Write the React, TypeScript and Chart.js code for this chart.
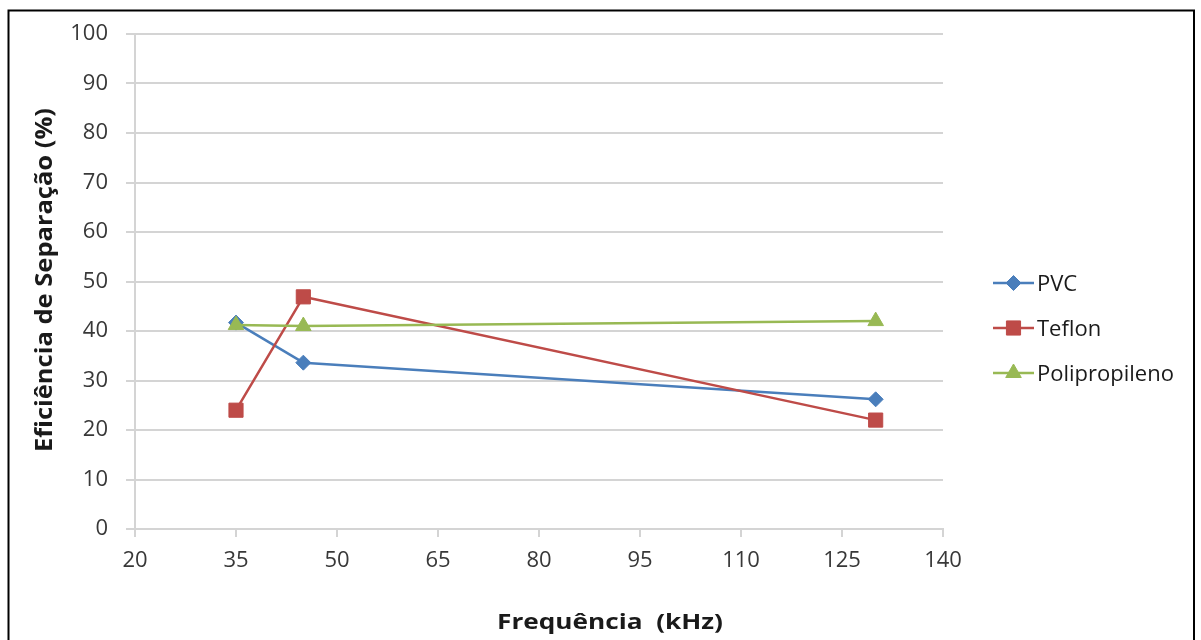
import React, { useEffect, useRef } from "react";
import { Chart, registerables } from "chart.js";
import { drawPoint } from "chart.js/helpers";

Chart.register(...registerables);

// Separation efficiency per material at each ultrasonic frequency
const frequencies = [35, 45, 130];
const pvcValues = [41.7, 33.6, 26.2];
const teflonValues = [24.0, 46.9, 22.0];
const polipropilenoValues = [41.2, 41.0, 42.0];
const seriesNames = ["PVC", "Teflon", "Polipropileno"];

const xTitle = "Frequência  (kHz)";
const yTitle = "Eficiência de Separação (%)";
const xMin = 20;
const xMax = 140;
const xStep = 15;
const yMin = 0;
const yMax = 100;
const yStep = 10;

const COLORS = ["#4A7EBB", "#BE4B48", "#98B954"];
const POINT_STYLES = ["rectRot", "rect", "triangle"] as const;
const POINT_RADII = [7.5, 10, 9];
const GRID = "#d4d4d4";
const TICK_TEXT = "#383838";
const TITLE_TEXT = "#1a1a1a";
const FONT = '"Open Sans", "DejaVu Sans", sans-serif';

function toPoints(values: number[]) {
  return frequencies.map((x, i) => ({ x, y: values[i] }));
}

// Frame, axis titles and an Excel-style legend (line segment + marker)
const decorations = {
  id: "decorations",
  afterDraw(chart: Chart) {
    const ctx = chart.ctx;
    ctx.save();

    // outer frame
    ctx.strokeStyle = "#000";
    ctx.lineWidth = 2;
    ctx.strokeRect(8.5, 10.5, 1185.5, 700);

    // x title
    ctx.fillStyle = TITLE_TEXT;
    ctx.font = `bold 22px ${FONT}`;
    ctx.textAlign = "center";
    ctx.textBaseline = "alphabetic";
    let w = ctx.measureText(xTitle).width;
    ctx.save();
    ctx.translate(610, 629);
    ctx.scale(226 / w, 1);
    ctx.fillText(xTitle, 0, 0);
    ctx.restore();

    // y title
    ctx.font = `bold 24px ${FONT}`;
    w = ctx.measureText(yTitle).width;
    ctx.save();
    ctx.translate(52, 280);
    ctx.rotate(-Math.PI / 2);
    ctx.scale(344 / w, 1);
    ctx.fillText(yTitle, 0, 0);
    ctx.restore();

    // legend
    chart.data.datasets.forEach((ds: any, i: number) => {
      const y = 283 + 45 * i;
      ctx.strokeStyle = ds.borderColor;
      ctx.lineWidth = 2.5;
      ctx.beginPath();
      ctx.moveTo(993, y);
      ctx.lineTo(1034, y);
      ctx.stroke();
      ctx.fillStyle = ds.pointBackgroundColor;
      ctx.strokeStyle = ds.pointBorderColor;
      ctx.lineWidth = 1;
      drawPoint(
        ctx,
        { pointStyle: ds.pointStyle, radius: ds.pointRadius, rotation: 0, borderWidth: 1 } as any,
        1013.5,
        y
      );
      ctx.fillStyle = TITLE_TEXT;
      ctx.font = `22px ${FONT}`;
      ctx.textAlign = "left";
      ctx.textBaseline = "alphabetic";
      ctx.fillText(ds.label, 1037, y + 8);
    });

    ctx.restore();
  },
};

export default function App() {
  const canvasRef = useRef<HTMLCanvasElement | null>(null);

  useEffect(() => {
    const canvas = canvasRef.current;
    if (!canvas) return;
    const seriesValues = [pvcValues, teflonValues, polipropilenoValues];

    const chart = new Chart(canvas, {
      type: "line",
      data: {
        datasets: seriesValues.map((values, i) => ({
          label: seriesNames[i],
          data: toPoints(values),
          borderColor: COLORS[i],
          backgroundColor: COLORS[i],
          pointBackgroundColor: COLORS[i],
          pointBorderColor: COLORS[i],
          pointStyle: POINT_STYLES[i],
          pointRadius: POINT_RADII[i],
          pointBorderWidth: 1,
          borderWidth: 2.5,
          borderJoinStyle: "round",
          tension: 0,
          fill: false,
          order: seriesValues.length - 1 - i,
        })) as any,
      },
      options: {
        animation: false,
        responsive: false,
        devicePixelRatio: 1,
        layout: { padding: { left: 0, top: 34, right: 258, bottom: 0 } },
        plugins: {
          legend: { display: false },
          tooltip: { enabled: false },
          title: { display: false },
        },
        scales: {
          x: {
            type: "linear",
            min: xMin,
            max: xMax,
            ticks: {
              stepSize: xStep,
              color: TICK_TEXT,
              font: { family: FONT, size: 22 },
              padding: 11,
              maxRotation: 0,
              autoSkip: false,
            },
            grid: {
              drawOnChartArea: false,
              drawTicks: true,
              tickLength: 8,
              color: GRID,
              lineWidth: 2,
            },
            border: { display: true, color: GRID, width: 2 },
            afterFit(scale: any) {
              scale.height = 111;
            },
          },
          y: {
            type: "linear",
            min: yMin,
            max: yMax,
            ticks: {
              stepSize: yStep,
              color: TICK_TEXT,
              font: { family: FONT, size: 22 },
              padding: 18,
            },
            grid: {
              drawTicks: true,
              tickLength: 9,
              color: GRID,
              lineWidth: 2,
            },
            border: { display: true, color: GRID, width: 2 },
            afterFit(scale: any) {
              scale.width = 135;
            },
          },
        },
      } as any,
      plugins: [decorations],
    });

    return () => chart.destroy();
  }, []);

  return (
    <canvas
      ref={canvasRef}
      width={1201}
      height={640}
      style={{ position: "fixed", left: 0, top: 0, width: 1201, height: 640, background: "#fff" }}
    />
  );
}
